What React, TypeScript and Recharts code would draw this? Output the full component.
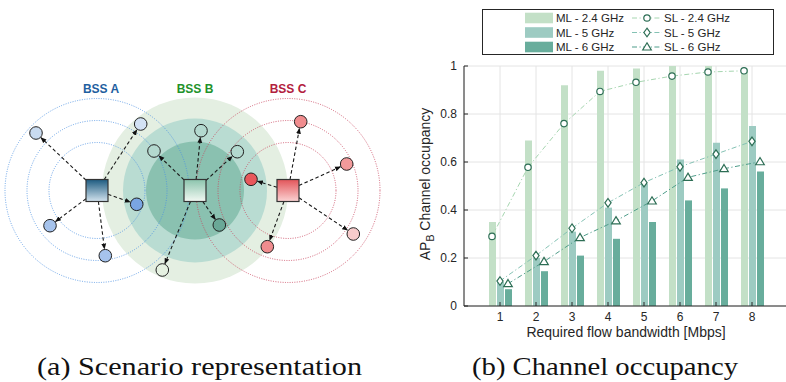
import React from 'react';
import { ComposedChart, Bar, Line, XAxis, YAxis, CartesianGrid } from 'recharts';

// ---- Channel occupancy data -------------------------------------------
const bandwidths = [1, 2, 3, 4, 5, 6, 7, 8];
const ml24 = [0.35, 0.69, 0.92, 0.98, 0.99, 1.0, 1.0, 0.99];
const ml5 = [0.1, 0.2, 0.31, 0.41, 0.51, 0.61, 0.68, 0.75];
const ml6 = [0.07, 0.145, 0.21, 0.28, 0.35, 0.44, 0.49, 0.56];
const sl24 = [0.29, 0.578, 0.76, 0.894, 0.932, 0.958, 0.975, 0.98];
const sl5 = [0.104, 0.21, 0.324, 0.43, 0.514, 0.58, 0.633, 0.686];
const sl6 = [0.093, 0.185, 0.285, 0.355, 0.4375, 0.536, 0.572, 0.601];
const yTicks = [0, 0.2, 0.4, 0.6, 0.8, 1];

const data = bandwidths.map((bw, i) => ({
  bw,
  ml24: ml24[i],
  ml5: ml5[i],
  ml6: ml6[i],
  sl24: sl24[i],
  sl5: sl5[i],
  sl6: sl6[i],
}));

const FONT = '"Liberation Sans", Arial, Helvetica, sans-serif';
const SERIF = '"Liberation Serif", "Times New Roman", serif';
const INK = '#262626';

const C = {
  ml24: '#c3e0c7',
  ml5: '#9dcbc2',
  ml6: '#68ad9c',
  sl24: '#a6d6b0',
  sl5: '#84c2b4',
  sl6: '#4f9d8a',
  marker: '#2d6e55',
  grid: '#e4e4e4',
};

const DASH_DOT = '5 2.5 1.2 2.5';

// ---- markers ----------------------------------------------------------
const CircleMark = ({ cx, cy }: { cx: number; cy: number }) => (
  <circle cx={cx} cy={cy} r={3.2} fill="#fff" stroke={C.marker} strokeWidth={1.2} />
);
const DiamondMark = ({ cx, cy }: { cx: number; cy: number }) => (
  <path
    d={`M${cx},${cy - 4.3}L${cx + 3.1},${cy}L${cx},${cy + 4.3}L${cx - 3.1},${cy}Z`}
    fill="#fff"
    stroke={C.marker}
    strokeWidth={1.2}
  />
);
const TriangleMark = ({ cx, cy }: { cx: number; cy: number }) => (
  <path
    d={`M${cx},${cy - 4.2}L${cx + 4.3},${cy + 3}L${cx - 4.3},${cy + 3}Z`}
    fill="#fff"
    stroke={C.marker}
    strokeWidth={1.2}
  />
);

const XTitle = (p: any) => {
  const vb = p.viewBox || {};
  return (
    <text
      x={vb.x + vb.width / 2}
      y={vb.y + 31}
      textAnchor="middle"
      fontFamily={FONT}
      fontSize={14}
      fill={INK}
    >
      Required flow bandwidth [Mbps]
    </text>
  );
};

const YTitle = (p: any) => {
  const vb = p.viewBox || {};
  const x = vb.x + 26;
  const y = vb.y + vb.height / 2 - 2;
  return (
    <text
      x={x}
      y={y}
      transform={`rotate(-90 ${x} ${y})`}
      textAnchor="middle"
      fontFamily={FONT}
      fontSize={14}
      fill={INK}
    >
      AP
      <tspan dy={4} fontSize={10.5}>
        B
      </tspan>
      <tspan dy={-4}> Channel occupancy</tspan>
    </text>
  );
};

// ---- scenario diagram -------------------------------------------------
type Node = { x: number; y: number; fill: string };

const apA = { x: 97, y: 190.5 };
const apB = { x: 195, y: 190.5 };
const apC = { x: 288, y: 190.5 };

const stationsA: Node[] = [
  { x: 36, y: 133, fill: '#c9dbf0' },
  { x: 140.7, y: 124, fill: '#d3e2f4' },
  { x: 136.7, y: 204.3, fill: '#7aa5e2' },
  { x: 50, y: 225.7, fill: '#a6c3ec' },
  { x: 105.3, y: 255.7, fill: '#a6c3ec' },
];
const stationsB: Node[] = [
  { x: 201, y: 130.7, fill: '#b3d9cf' },
  { x: 154, y: 151, fill: '#b3d9cf' },
  { x: 237.3, y: 151.7, fill: '#b3d9cf' },
  { x: 219.3, y: 225, fill: '#6aa897' },
  { x: 162.3, y: 270, fill: '#e5f1e1' },
];
const stationsC: Node[] = [
  { x: 300.7, y: 121.7, fill: '#f08c8e' },
  { x: 346.7, y: 164, fill: '#f29a9b' },
  { x: 251, y: 179.3, fill: '#e8585c' },
  { x: 267.3, y: 246.7, fill: '#f08c8e' },
  { x: 353.3, y: 234, fill: '#f8cccc' },
];

const ringRadii = [48, 70, 92];
const coverage = [
  { r: 93, fill: '#e4efe2' },
  { r: 72, fill: '#b9dcd2' },
  { r: 49, fill: '#8ac1b0' },
];
const AP_HALF = 11;
const STA_R = 6.3;

function Arrow({ from, to }: { from: { x: number; y: number }; to: Node }) {
  const dx = to.x - from.x;
  const dy = to.y - from.y;
  const len = Math.hypot(dx, dy);
  const t0 = AP_HALF / Math.max(Math.abs(dx), Math.abs(dy));
  const x1 = from.x + dx * t0;
  const y1 = from.y + dy * t0;
  const x2 = to.x - (dx / len) * (STA_R + 0.4);
  const y2 = to.y - (dy / len) * (STA_R + 0.4);
  return (
    <line
      x1={x1}
      y1={y1}
      x2={x2}
      y2={y2}
      stroke="#1a1a1a"
      strokeWidth={1.1}
      strokeDasharray="3.5 2.5"
      markerEnd="url(#arrowHead)"
    />
  );
}

function Scenario() {
  const groups = [
    { ap: apA, st: stationsA },
    { ap: apB, st: stationsB },
    { ap: apC, st: stationsC },
  ];
  return (
    <g>
      <defs>
        <marker
          id="arrowHead"
          markerWidth={6}
          markerHeight={6}
          refX={5.5}
          refY={3}
          orient="auto"
          markerUnits="userSpaceOnUse"
        >
          <path d="M0,0.6 L6,3 L0,5.4 Z" fill="#111" />
        </marker>
        <linearGradient id="gradA" x1="0" y1="0" x2="0" y2="1">
          <stop offset="0" stopColor="#1d5b80" />
          <stop offset="1" stopColor="#d3e3ee" />
        </linearGradient>
        <linearGradient id="gradB" x1="0" y1="0" x2="0" y2="1">
          <stop offset="0" stopColor="#8cc4ad" />
          <stop offset="1" stopColor="#f2f9f3" />
        </linearGradient>
        <linearGradient id="gradC" x1="0" y1="0" x2="0" y2="1">
          <stop offset="0" stopColor="#e2555a" />
          <stop offset="1" stopColor="#fbd3d3" />
        </linearGradient>
      </defs>

      {coverage.map((c) => (
        <circle key={c.r} cx={apB.x} cy={apB.y} r={c.r} fill={c.fill} />
      ))}

      {ringRadii.map((r) => (
        <circle
          key={`a${r}`}
          cx={apA.x}
          cy={apA.y}
          r={r}
          fill="none"
          stroke="#4a90e2"
          strokeOpacity={0.8}
          strokeWidth={1}
          strokeDasharray="1 1.4"
        />
      ))}
      {ringRadii.map((r) => (
        <circle
          key={`c${r}`}
          cx={apC.x}
          cy={apC.y}
          r={r}
          fill="none"
          stroke="#c8405a"
          strokeOpacity={0.8}
          strokeWidth={1}
          strokeDasharray="1 1.4"
        />
      ))}

      {groups.map((g, gi) =>
        g.st.map((s, si) => <Arrow key={`ar${gi}-${si}`} from={g.ap} to={s} />)
      )}

      <rect x={apA.x - AP_HALF} y={apA.y - AP_HALF} width={22} height={22} fill="url(#gradA)" stroke="#333" strokeWidth={1.2} />
      <rect x={apB.x - AP_HALF} y={apB.y - AP_HALF} width={22} height={22} fill="url(#gradB)" stroke="#333" strokeWidth={1.2} />
      <rect x={apC.x - AP_HALF} y={apC.y - AP_HALF} width={22} height={22} fill="url(#gradC)" stroke="#333" strokeWidth={1.2} />

      {groups.map((g, gi) =>
        g.st.map((s, si) => (
          <circle key={`st${gi}-${si}`} cx={s.x} cy={s.y} r={STA_R} fill={s.fill} stroke="#222" strokeWidth={1} />
        ))
      )}

      <text x={101} y={92.5} textAnchor="middle" fontFamily={FONT} fontWeight="bold" fontSize={12} fill="#1f5fa0">
        BSS A
      </text>
      <text x={195} y={92.5} textAnchor="middle" fontFamily={FONT} fontWeight="bold" fontSize={12} fill="#22922a">
        BSS B
      </text>
      <text x={288} y={92.5} textAnchor="middle" fontFamily={FONT} fontWeight="bold" fontSize={12} fill="#b2203e">
        BSS C
      </text>
    </g>
  );
}

// ---- legend -----------------------------------------------------------
const legendRows = [
  { bar: 'ML - 2.4 GHz', barFill: C.ml24, line: 'SL - 2.4 GHz', stroke: C.sl24, Mark: CircleMark },
  { bar: 'ML - 5 GHz', barFill: C.ml5, line: 'SL - 5 GHz', stroke: C.sl5, Mark: DiamondMark },
  { bar: 'ML - 6 GHz', barFill: C.ml6, line: 'SL - 6 GHz', stroke: C.sl6, Mark: TriangleMark },
];

function LegendBox() {
  const rowY = [18, 32.5, 47];
  return (
    <g>
      <rect x={482.5} y={9.5} width={291} height={45} fill="#fff" stroke={INK} strokeWidth={1} />
      {legendRows.map((r, i) => {
        const y = rowY[i];
        const M = r.Mark;
        return (
          <g key={r.bar}>
            <rect x={525} y={y - 5.3} width={28} height={10.6} fill={r.barFill} />
            <text x={556} y={y + 4.2} fontFamily={FONT} fontSize={11.5} fill={INK}>
              {r.bar}
            </text>
            <line x1={632} y1={y} x2={662} y2={y} stroke={r.stroke} strokeWidth={1} strokeDasharray={DASH_DOT} />
            <M cx={647} cy={y} />
            <text x={664} y={y + 4.2} fontFamily={FONT} fontSize={11.5} fill={INK}>
              {r.line}
            </text>
          </g>
        );
      })}
    </g>
  );
}

export default function App() {
  return (
    <div
      style={{
        position: 'fixed',
        left: 0,
        top: 0,
        width: 786,
        height: 382,
        overflow: 'hidden',
        background: '#fff',
      }}
    >
      <div style={{ position: 'absolute', left: 0, top: 0 }}>
        <ComposedChart
          width={800}
          height={382}
          data={data}
          margin={{ top: 66, right: 12, bottom: 46, left: 404 }}
          barGap={1}
          barSize={7}
        >
          <CartesianGrid xAxisId="main" yAxisId="y" stroke={C.grid} strokeWidth={1} />
          <XAxis
            xAxisId="main"
            dataKey="bw"
            padding={{ left: 18, right: 18 }}
            height={30}
            interval={0}
            tickSize={-4}
            tickMargin={10.5}
            axisLine={{ stroke: INK, strokeWidth: 1 }}
            tickLine={{ stroke: INK }}
            tick={{ fill: INK, fontSize: 12, fontFamily: FONT }}
            label={XTitle}
          />
          <XAxis
            xAxisId="top"
            orientation="top"
            dataKey="bw"
            padding={{ left: 18, right: 18 }}
            height={0}
            interval={0}
            tickSize={-4}
            tick={false}
            axisLine={{ stroke: INK, strokeWidth: 1 }}
            tickLine={{ stroke: INK }}
          />
          <XAxis xAxisId="l24" orientation="top" dataKey="bw" hide height={0} padding={{ left: 10, right: 26 }} />
          <XAxis xAxisId="l6" orientation="top" dataKey="bw" hide height={0} padding={{ left: 26, right: 10 }} />
          <YAxis
            yAxisId="y"
            domain={[0, 1]}
            ticks={yTicks}
            width={60}
            allowDataOverflow
            tickSize={-4}
            tickMargin={11}
            axisLine={{ stroke: INK, strokeWidth: 1 }}
            tickLine={{ stroke: INK }}
            tick={{ fill: INK, fontSize: 12, fontFamily: FONT }}
            tickFormatter={(v: number) => String(v)}
            label={YTitle}
          />
          <Bar xAxisId="main" yAxisId="y" dataKey="ml24" fill={C.ml24} isAnimationActive={false} />
          <Bar xAxisId="main" yAxisId="y" dataKey="ml5" fill={C.ml5} isAnimationActive={false} />
          <Bar xAxisId="main" yAxisId="y" dataKey="ml6" fill={C.ml6} isAnimationActive={false} />
          <Line
            xAxisId="l24"
            yAxisId="y"
            dataKey="sl24"
            stroke={C.sl24}
            strokeWidth={1}
            strokeDasharray={DASH_DOT}
            isAnimationActive={false}
            dot={(p: any) => <CircleMark key={`c${p.index}`} cx={p.cx} cy={p.cy} />}
            activeDot={false}
          />
          <Line
            xAxisId="main"
            yAxisId="y"
            dataKey="sl5"
            stroke={C.sl5}
            strokeWidth={1}
            strokeDasharray={DASH_DOT}
            isAnimationActive={false}
            dot={(p: any) => <DiamondMark key={`d${p.index}`} cx={p.cx} cy={p.cy} />}
            activeDot={false}
          />
          <Line
            xAxisId="l6"
            yAxisId="y"
            dataKey="sl6"
            stroke={C.sl6}
            strokeWidth={1}
            strokeDasharray={DASH_DOT}
            isAnimationActive={false}
            dot={(p: any) => <TriangleMark key={`t${p.index}`} cx={p.cx} cy={p.cy} />}
            activeDot={false}
          />
        </ComposedChart>
      </div>
      <svg
        width={786}
        height={382}
        style={{ position: 'absolute', left: 0, top: 0, pointerEvents: 'none' }}
      >
        <Scenario />
        <LegendBox />
        <text x={37} y={375} fontFamily={SERIF} fontSize={25} fill="#111" textLength={325} lengthAdjust="spacingAndGlyphs">
          (a) Scenario representation
        </text>
        <text x={472} y={375} fontFamily={SERIF} fontSize={25} fill="#111" textLength={266} lengthAdjust="spacingAndGlyphs">
          (b) Channel occupancy
        </text>
      </svg>
    </div>
  );
}
